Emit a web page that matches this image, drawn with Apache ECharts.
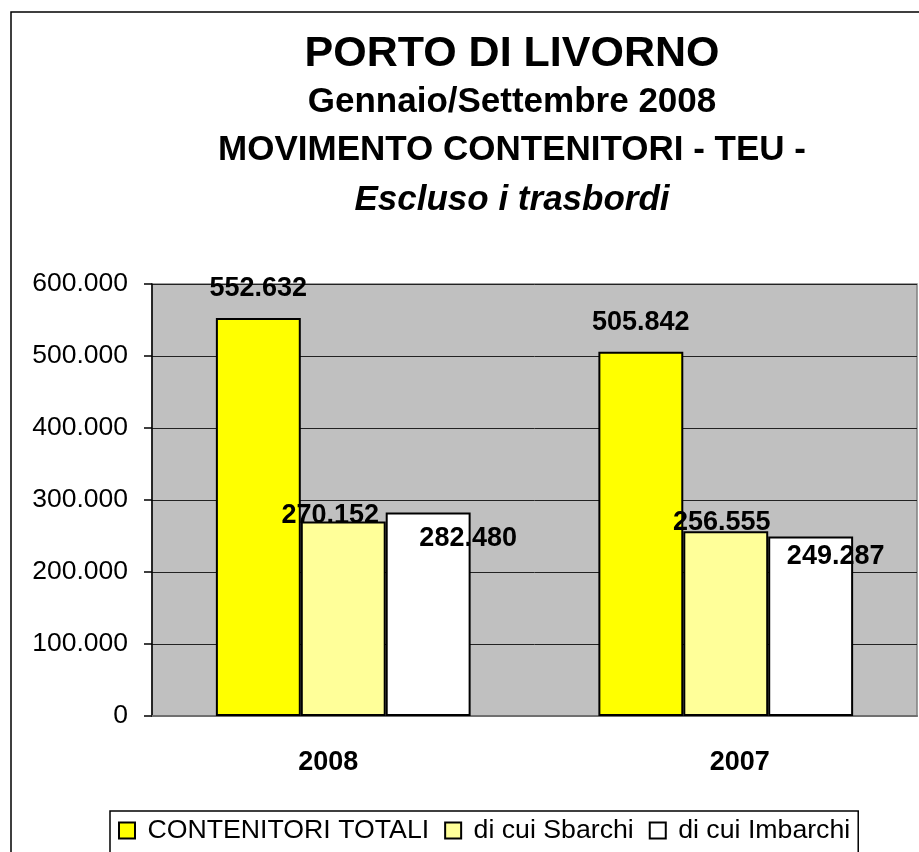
<!DOCTYPE html>
<html>
<head>
<meta charset="utf-8">
<title>Porto di Livorno</title>
<script src="https://cdn.jsdelivr.net/npm/echarts@6/dist/echarts.min.js"></script>
<style>
  html, body { margin: 0; padding: 0; background: #fff; }
  #chart { width: 919px; height: 852px; }
</style>
</head>
<body>
<div id="chart"></div>
<script type="text/javascript">
// dati
var categories = ['2008', '2007'];
var seriesNames = ['CONTENITORI TOTALI', 'di cui Sbarchi', 'di cui Imbarchi'];
var totali = [552632, 505842];
var sbarchi = [270152, 256555];
var imbarchi = [282480, 249287];
var yTicks = [0, 100000, 200000, 300000, 400000, 500000, 600000];

// spostamento delle etichette (come nel grafico originale)
var labelShift = [
  [[0, -16], [0, -16]],
  [[-13, 8], [-4, 5]],
  [[40, 39], [25, 34]]
];
// spostamento orizzontale delle etichette delle categorie
var catShift = [-15, 14];

var font = 'Liberation Sans, Arial, sans-serif';

function fmt(v) {
  return String(v).replace(/\B(?=(\d{3})+(?!\d))/g, '.');
}

function makeData(values, s) {
  return values.map(function (v, i) {
    return { value: v, label: { offset: labelShift[s][i] } };
  });
}

var colors = ['#FFFF00', '#FFFF99', '#FFFFFF'];
var values = [totali, sbarchi, imbarchi];

var series = seriesNames.map(function (name, s) {
  return {
    name: name,
    type: 'bar',
    barGap: '0%',
    barCategoryGap: '33.4%',
    data: makeData(values[s], s),
    itemStyle: { color: colors[s], borderColor: '#000', borderWidth: 2 },
    label: {
      show: true,
      position: 'top',
      distance: 0,
      color: '#000',
      fontFamily: font,
      fontWeight: 'bold',
      fontSize: 27,
      lineHeight: 27,
      formatter: function (p) { return fmt(p.value); }
    }
  };
});

var titleLines = [
  { text: 'PORTO DI LIVORNO', y: 54, size: 43, style: 'normal' },
  { text: 'Gennaio/Settembre 2008', y: 102, size: 35, style: 'normal' },
  { text: 'MOVIMENTO CONTENITORI - TEU -', y: 150, size: 35, style: 'normal' },
  { text: 'Escluso i trasbordi', y: 200, size: 35, style: 'italic' }
];

var myChart = echarts.init(document.getElementById('chart'));
var option = {
  animation: false,
  backgroundColor: '#fff',
  color: colors,
  graphic: [{
    type: 'rect',
    z: -10,
    shape: { x: 11, y: 12, width: 1200, height: 1200 },
    style: { fill: '#fff', stroke: '#000', lineWidth: 1.5 }
  }].concat(titleLines.map(function (t) {
    return {
      type: 'text',
      x: 512,
      y: t.y,
      style: {
        text: t.text,
        fill: '#000',
        font: t.style + ' bold ' + t.size + 'px ' + font,
        textAlign: 'center',
        textVerticalAlign: 'middle'
      }
    };
  })),
  grid: {
    left: 152,
    top: 284,
    right: 2,
    bottom: 136,
    show: true,
    backgroundColor: '#C0C0C0',
    borderColor: '#808080',
    borderWidth: 1.5
  },
  legend: {
    data: seriesNames,
    left: 110,
    top: 811,
    orient: 'horizontal',
    icon: 'rect',
    itemWidth: 16,
    itemHeight: 16,
    itemGap: 15,
    padding: [6, 8, 10, 8],
    borderColor: '#000',
    borderWidth: 1.5,
    backgroundColor: '#fff',
    formatter: function (name) { return ' ' + name; },
    textStyle: { color: '#000', fontFamily: font, fontSize: 26.7, lineHeight: 27 }
  },
  xAxis: {
    type: 'category',
    data: categories.map(function (c, i) {
      var d = catShift[i];
      return {
        value: c,
        textStyle: { padding: d < 0 ? [0, -2 * d, 0, 0] : [0, 0, 0, 2 * d] }
      };
    }),
    axisTick: { show: false },
    axisLine: { lineStyle: { color: '#707070', width: 2 } },
    axisLabel: {
      color: '#000',
      fontFamily: font,
      fontWeight: 'bold',
      fontSize: 27,
      lineHeight: 27,
      margin: 33
    }
  },
  yAxis: {
    type: 'value',
    min: yTicks[0],
    max: yTicks[yTicks.length - 1],
    interval: yTicks[1] - yTicks[0],
    axisLine: { show: true, lineStyle: { color: '#000', width: 1.5 } },
    axisTick: { show: true, length: 8, lineStyle: { color: '#000', width: 1.5 } },
    splitLine: { lineStyle: { color: '#222', width: 1 } },
    axisLabel: {
      color: '#000',
      fontFamily: font,
      fontSize: 26.5,
      margin: 24,
      formatter: function (v) { return fmt(v); }
    }
  },
  series: series
};
myChart.setOption(option);
</script>
</body>
</html>
